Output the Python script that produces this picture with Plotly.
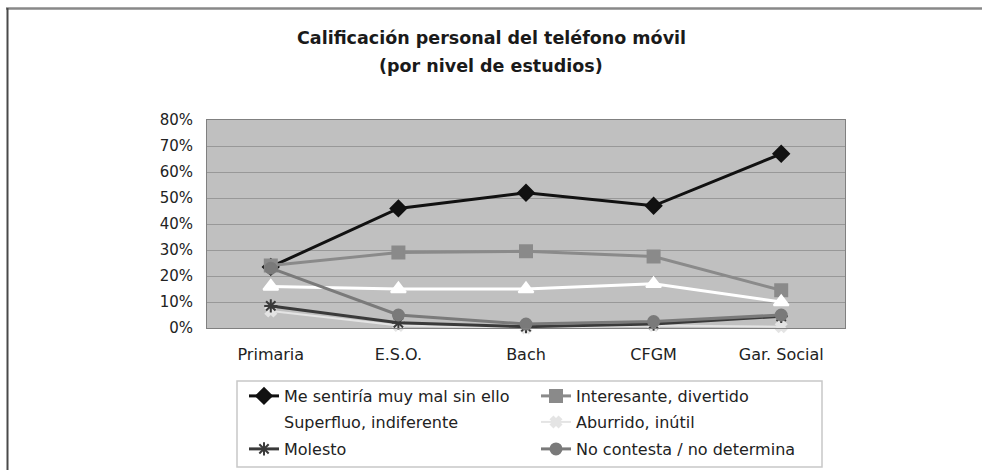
import plotly.graph_objects as go

W, H = 982, 470

categories = ["Primaria", "E.S.O.", "Bach", "CFGM", "Gar. Social"]
me_sentiria = [23.5, 46, 52, 47, 67]
interesante = [24, 29, 29.5, 27.5, 14.5]
superfluo = [16, 15, 15, 17, 10]
aburrido = [6.5, 1, 0, 1, 0.5]
molesto = [8.5, 2, 0.5, 1.5, 4.5]
no_contesta = [23, 5, 1.5, 2.5, 5]

series_names = ["Me sentiría muy mal sin ello", "Interesante, divertido",
                "Superfluo, indiferente", "Aburrido, inútil",
                "Molesto", "No contesta / no determina"]
y_ticks = [0, 10, 20, 30, 40, 50, 60, 70, 80]
y_tick_labels = ["0%", "10%", "20%", "30%", "40%", "50%", "60%", "70%", "80%"]

FONT = "DejaVu Sans"

def px_x(p):
    return p / W

def px_y(p):
    return 1 - p / H

styles = [
    dict(color="#111111", width=3, symbol="diamond", msize=12, mcolor="#111111", legend="legend"),
    dict(color="#8a8a8a", width=3, symbol="square", msize=12, mcolor="#8a8a8a", legend="legend"),
    dict(color="#ffffff", width=3, symbol="triangle-up", msize=13, mcolor="#ffffff", legend="legend2"),
    dict(color="#e4e4e4", width=2, symbol="x", msize=9, mcolor="#e4e4e4", legend="legend2"),
    dict(color="#3a3a3a", width=3, symbol="asterisk", msize=11, mcolor="#3a3a3a", legend="legend3"),
    dict(color="#7a7a7a", width=3, symbol="circle", msize=11, mcolor="#7a7a7a", legend="legend3"),
]
data = [me_sentiria, interesante, superfluo, aburrido, molesto, no_contesta]

fig = go.Figure()
for name, vals, st in zip(series_names, data, styles):
    fig.add_trace(go.Scatter(
        x=categories, y=vals, name=name, mode="lines+markers",
        line=dict(color=st["color"], width=st["width"]),
        marker=dict(symbol=st["symbol"], size=st["msize"], color=st["mcolor"],
                    line=dict(color=st["mcolor"], width=2)),
        legend=st["legend"], cliponaxis=False,
    ))

plot_l, plot_r, plot_t, plot_b = 207, 845, 120, 328

legend_common = dict(orientation="h", entrywidth=247, entrywidthmode="pixels",
                     bgcolor="rgba(0,0,0,0)", borderwidth=0,
                     font=dict(family=FONT, size=16, color="#222222"),
                     xanchor="left", yanchor="middle", x=px_x(244),
                     itemclick=False, itemdoubleclick=False)

fig.update_layout(
    width=W, height=H,
    margin=dict(l=0, r=0, t=0, b=0, autoexpand=False),
    paper_bgcolor="white",
    plot_bgcolor="#c0c0c0",
    showlegend=True,
    xaxis=dict(domain=[px_x(plot_l), px_x(plot_r)], range=[-0.5, 4.5],
               showgrid=False, showline=True, linecolor="#808080", linewidth=1, mirror=True,
               ticks="", ticklabelstandoff=12,
               tickfont=dict(family=FONT, size=16, color="#222222"),
               automargin=False, fixedrange=True),
    yaxis=dict(domain=[px_y(plot_b), px_y(plot_t)], range=[0, 80],
               tickmode="array", tickvals=y_ticks, ticktext=y_tick_labels,
               showgrid=True, gridcolor="#989898", gridwidth=1,
               showline=True, linecolor="#808080", linewidth=1, mirror=True,
               ticks="", ticklabelstandoff=10,
               tickfont=dict(family=FONT, size=15, color="#222222"),
               zeroline=False, automargin=False, fixedrange=True),
    legend=dict(**legend_common, y=px_y(396)),
    legend2=dict(**legend_common, y=px_y(422)),
    legend3=dict(**legend_common, y=px_y(449)),
    annotations=[
        dict(text="<b>Calificación personal del teléfono móvil</b>", x=px_x(491), y=px_y(38),
             xref="paper", yref="paper", showarrow=False, xanchor="center", yanchor="middle",
             font=dict(family=FONT, size=17.5, color="#1a1a1a")),
        dict(text="<b>(por nivel de estudios)</b>", x=px_x(491), y=px_y(66),
             xref="paper", yref="paper", showarrow=False, xanchor="center", yanchor="middle",
             font=dict(family=FONT, size=17.5, color="#1a1a1a")),
    ],
    shapes=[
        dict(type="rect", xref="paper", yref="paper", x0=px_x(237), x1=px_x(822),
             y0=px_y(467), y1=px_y(381), line=dict(color="#c8c8c8", width=1.5),
             fillcolor="rgba(0,0,0,0)", layer="below"),
        dict(type="line", xref="paper", yref="paper", x0=px_x(6), x1=1,
             y0=px_y(8.5), y1=px_y(8.5), line=dict(color="#888888", width=2.5)),
        dict(type="line", xref="paper", yref="paper", x0=px_x(7.5), x1=px_x(7.5),
             y0=px_y(8), y1=0, line=dict(color="#4a4a4a", width=2)),
    ],
)

fig.write_html("out.html",
               config={"displayModeBar": False, "staticPlot": False},
               post_script="document.body.style.margin='0';document.body.style.overflow='hidden';")
